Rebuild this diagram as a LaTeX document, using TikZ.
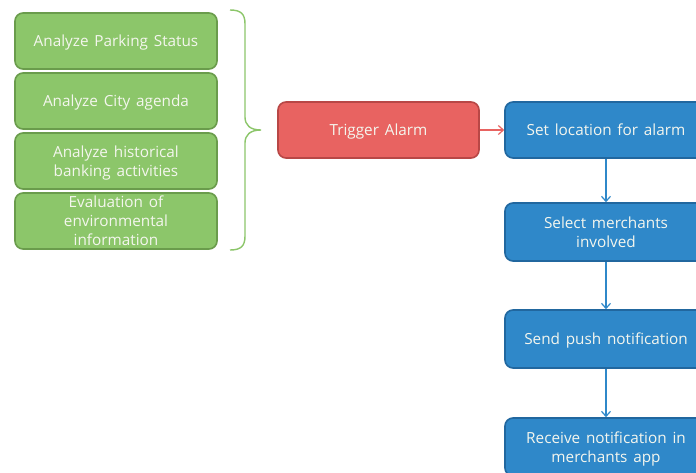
\documentclass[tikz,border=0pt]{standalone}
\usepackage{fontspec}
\setmainfont{Open Sans}
\usetikzlibrary{arrows.meta}
\definecolor{gfill}{HTML}{8CC66A}
\definecolor{gline}{HTML}{6A9C4C}
\definecolor{rfill}{HTML}{E86361}
\definecolor{rline}{HTML}{B84746}
\definecolor{bfill}{HTML}{2F88C9}
\definecolor{bline}{HTML}{21679F}
\definecolor{txt}{HTML}{F4F6EE}
% box text: larger size with wide word spaces
\newcommand\boxtextfont{\fontsize{15.3}{19}\selectfont\spaceskip=5.8pt plus 1pt minus 1pt\relax}
\tikzset{
  box/.style={rounded corners=8pt, line width=1.6pt, minimum width=202pt, minimum height=56pt,
    align=center, text=txt, inner sep=1pt, text depth=0pt, font=\boxtextfont},
  gbox/.style={box, fill=gfill, draw=gline},
  rbox/.style={box, fill=rfill, draw=rline},
  bbox/.style={box, fill=bfill, draw=bline},
  link/.style={line width=1.2pt, -{Straight Barb[length=5pt,width=9pt]}},
}
\begin{document}
\begin{tikzpicture}[x=1pt,y=-1pt]
  \useasboundingbox (0,0) rectangle (696,472);
  \clip (0,0) rectangle (696,472);
  \fill[white] (0,0) rectangle (696,472);
  % analysis steps
  \node[gbox] (g1) at (116,41)  {Analyze Parking Status};
  \node[gbox] (g2) at (116,101) {Analyze City agenda};
  \node[gbox] (g3) at (116,161) {Analyze historical\\banking activities};
  \node[gbox] (g4) at (116,221) {Evaluation of\\environmental\\information};
  % brace grouping the analysis steps
  \draw[gfill, line width=1.4pt]
    (230,10) .. controls (241,10) and (245,14) .. (245,24) -- (245,117)
    .. controls (245,125) and (250,130) .. (261,130)
    .. controls (250,130) and (245,135) .. (245,143) -- (245,236)
    .. controls (245,246) and (241,250) .. (230,250);
  % trigger
  \node[rbox, minimum width=201pt] (trig) at (378.5,130) {Trigger Alarm};
  % flow
  \node[bbox] (b1) at (606,130) {Set location for alarm};
  \node[bbox, minimum height=58pt] (b2) at (606,232) {Select merchants\\involved};
  \node[bbox, minimum height=58pt] (b3) at (606,339) {Send push notification};
  \node[bbox, minimum height=58pt] (b4) at (606,447) {Receive notification in\\merchants app};
  \draw[link, rfill] (trig) -- (b1);
  \draw[link, bfill] (b1) -- (b2);
  \draw[link, bfill] (b2) -- (b3);
  \draw[link, bfill] (b3) -- (b4);
\end{tikzpicture}
\end{document}
